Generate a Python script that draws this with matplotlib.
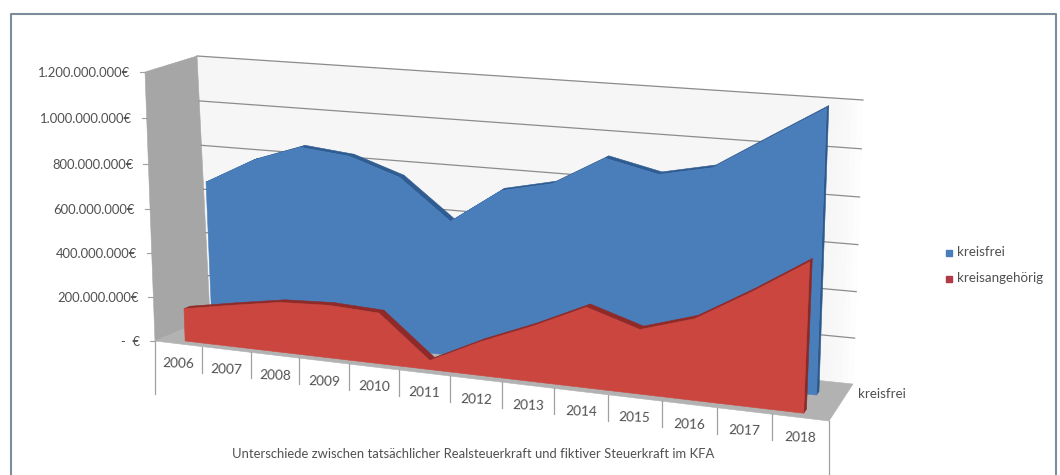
import numpy as np
import matplotlib
matplotlib.use('Agg')
import matplotlib.pyplot as plt

plt.rcParams['font.family'] = ['Lato', 'DejaVu Sans']

years = [2006, 2007, 2008, 2009, 2010, 2011, 2012, 2013, 2014, 2015, 2016, 2017, 2018]
kreisfrei = [675, 790, 866, 844, 770, 597, 750, 799, 925, 875, 922, 1062, 1200]
kreisangehoerig = [148, 188, 225, 236, 226, 40, 150, 243, 349, 278, 349, 485, 633]
y_ticks = [0, 200, 400, 600, 800, 1000, 1200]
y_labels = ['-  €', '200.000.000€', '400.000.000€', '600.000.000€',
            '800.000.000€', '1.000.000.000€', '1.200.000.000€']
y_max = 1200
n_cat = len(years)

# pixel corners of the 3d box: (0,0) (1,0) (1,1) (0,1) in (category, value)
front_corners = [(155, 341), (829, 421), (842, 127), (145, 72)]
back_corners = [(210, 318), (853, 384), (863, 100), (197, 56)]


def homography(corners):
    src = [(0, 0), (1, 0), (1, 1), (0, 1)]
    a = []
    b = []
    for (u, v), (x, y) in zip(src, corners):
        a.append([u, v, 1, 0, 0, 0, -u * x, -v * x])
        a.append([0, 0, 0, u, v, 1, -u * y, -v * y])
        b.extend([x, y])
    h = np.linalg.solve(np.array(a, float), np.array(b, float))
    return np.append(h, 1).reshape(3, 3)


H_front = homography(front_corners)
H_back = homography(back_corners)


def apply_h(h, u, v):
    p = h @ np.array([u, v, 1.0])
    return p[:2] / p[2]


def project(cat, value, depth):
    # cat in category units (0 = left edge of box), value in million euro, depth 0 front .. 1 back
    u = cat / n_cat
    v = value / y_max
    return apply_h(H_front, u, v) * (1 - depth) + apply_h(H_back, u, v) * depth


def poly(ax, pts, color, zorder):
    pts = np.array(pts)
    ax.fill(pts[:, 0], pts[:, 1], facecolor=color, edgecolor=color, linewidth=0.4, zorder=zorder)


def draw_area(ax, values, d0, d1, front_col, top_col, side_col, zorder):
    cats = [i + 0.5 for i in range(n_cat)]
    # right end of the slab
    last = cats[-1]
    poly(ax, [project(last, 0, d0), project(last, values[-1], d0),
              project(last, values[-1], d1), project(last, 0, d1)], side_col, zorder)
    # top band
    for i in range(n_cat - 1):
        poly(ax, [project(cats[i], values[i], d0), project(cats[i + 1], values[i + 1], d0),
                  project(cats[i + 1], values[i + 1], d1), project(cats[i], values[i], d1)],
             top_col, zorder + 1)
    # front face
    pts = [project(cats[0], 0, d0)]
    pts += [project(c, val, d0) for c, val in zip(cats, values)]
    pts.append(project(last, 0, d0))
    poly(ax, pts, front_col, zorder + 2)


fig = plt.figure(figsize=(10.6, 4.75), dpi=100)
ax = fig.add_axes([0, 0, 1, 1])
ax.set_xlim(0, 1060)
ax.set_ylim(475, 0)
ax.axis('off')

# outer frame
ax.plot([11, 11, 1056, 1056], [475, 13.5, 13.5, 475], color='#7d8c9c', lw=1.5, zorder=1)

# back wall, fading out to white on its right end
poly(ax, [project(0, 0, 1), project(n_cat - 0.5, 0, 1), project(n_cat - 0.5, y_max, 1), project(0, y_max, 1)],
     '#f6f6f6', 2)
shades = ['#f7f7f7', '#f8f8f8', '#f9f9f9', '#fbfbfb', '#fdfdfd']
for k, shade in enumerate(shades):
    c0 = n_cat - 0.5 + k * 0.1
    c1 = c0 + 0.1
    poly(ax, [project(c0, 0, 1), project(c1, 0, 1), project(c1, y_max, 1), project(c0, y_max, 1)], shade, 2)

poly(ax, [project(0, 0, 0), project(0, y_max, 0), project(0, y_max, 1), project(0, 0, 1)], '#a6a6a6', 3)
poly(ax, [project(0, 0, 0), project(n_cat, 0, 0), project(n_cat, 0, 1), project(0, 0, 1)], '#b2b2b2', 3)

# gridlines on back wall
for t in y_ticks[1:]:
    p0 = project(0, t, 1)
    p1 = project(n_cat, t, 1)
    ax.plot([p0[0], p1[0]], [p0[1], p1[1]], color='#8c8c8c', lw=0.9, zorder=4)

draw_area(ax, kreisfrei, 0.62, 0.72, '#4a7ebb', '#2f5c91', '#2c5a8e', 5)
draw_area(ax, kreisangehoerig, 0.12, 0.23, '#cb463e', '#8f2a28', '#8a2926', 9)

# value axis
for t, lab in zip(y_ticks, y_labels):
    p = project(0, t, 0)
    ax.plot([p[0] - 5, p[0]], [p[1], p[1]], color='#a0a0a0', lw=0.8, zorder=4)
    ax.text(p[0] - 15, p[1] + 1, lab, ha='right', va='center', fontsize=9.4, color='#505050')

# category axis
for i in range(n_cat + 1):
    p = project(i, 0, 0)
    tick_len = 54 if i == n_cat else (53 if i == 0 else 26)
    ax.plot([p[0], p[0]], [p[1], p[1] + tick_len], color='#a0a0a0', lw=0.9, zorder=4)
for i, yr in enumerate(years):
    p = project(i + 0.5, 0, 0)
    ax.text(p[0], p[1] + 20, str(yr), ha='center', va='center', fontsize=9.8, color='#505050', rotation=-2)

ax.text(858, 394, 'kreisfrei', ha='left', va='center', fontsize=9.6, color='#505050')
ax.text(473, 454, 'Unterschiede zwischen tatsächlicher Realsteuerkraft und fiktiver Steuerkraft im KFA',
        ha='center', va='center', fontsize=9.4, color='#505050')

# legend
ax.plot([949], [253], marker='s', ms=5, color='#4a7ebb', zorder=5)
ax.plot([949], [279], marker='s', ms=5, color='#b03a48', zorder=5)
ax.text(957, 252, 'kreisfrei', ha='left', va='center', fontsize=9.6, color='#505050')
ax.text(957, 278, 'kreisangehörig', ha='left', va='center', fontsize=9.6, color='#505050')

fig.savefig('out.png', dpi=100)
